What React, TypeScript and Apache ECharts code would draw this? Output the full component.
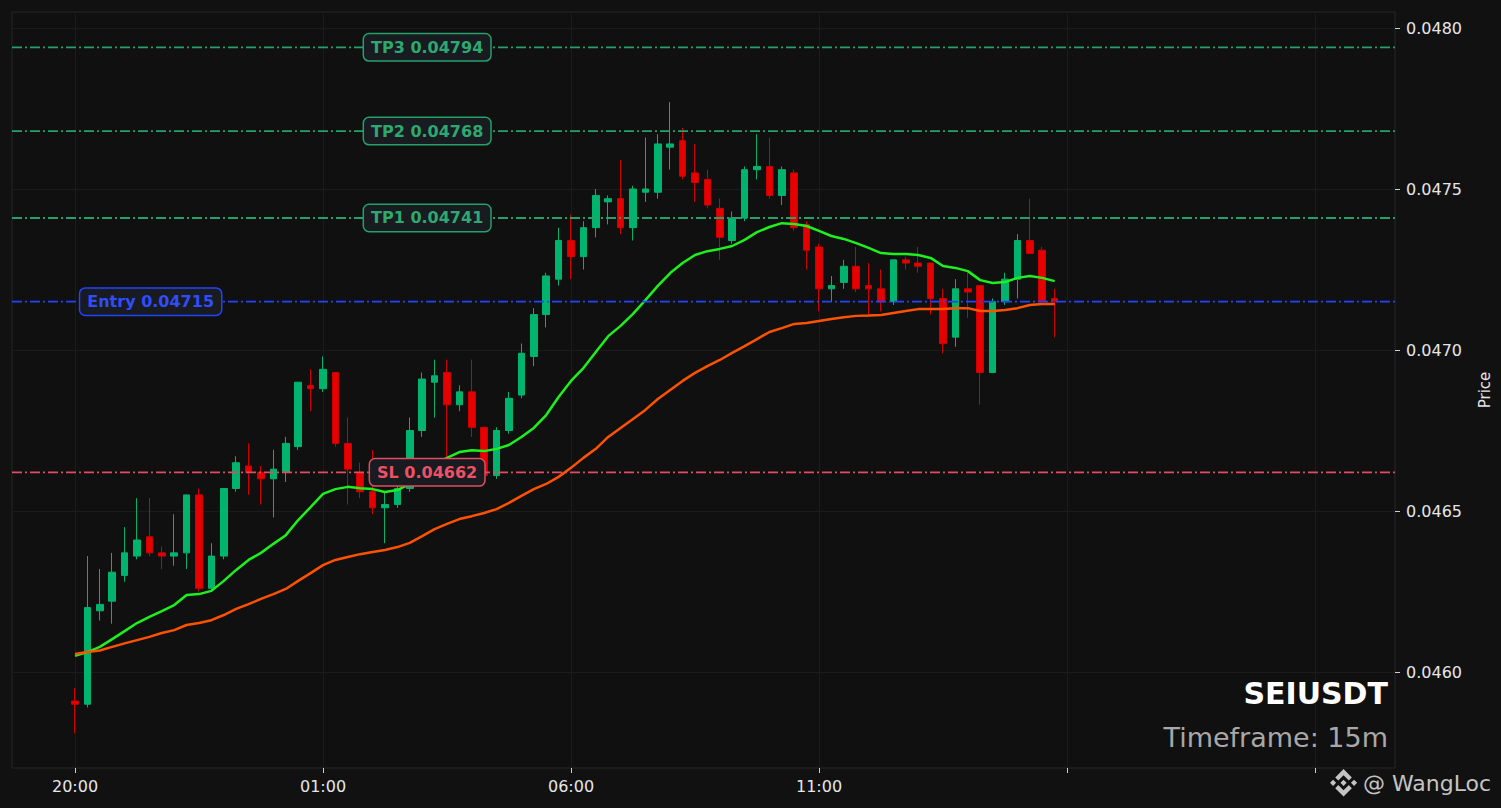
import React, { useEffect, useRef } from "react";
import * as echarts from "echarts";

// ---- data (15m candles, index 0 = 20:00) ----
const OPEN = [
  0.04591, 0.0459, 0.04619, 0.04622, 0.0463, 0.04636, 0.04642, 0.04637, 0.04636, 0.04637,
  0.04655, 0.04626, 0.04636, 0.04657, 0.04664, 0.04662, 0.0466, 0.04662, 0.0467, 0.04689,
  0.04688, 0.04693, 0.04671, 0.04662, 0.04656, 0.04651, 0.04652, 0.04657, 0.04675, 0.0469,
  0.04693, 0.04683, 0.04687, 0.04676, 0.04661, 0.04675, 0.04686, 0.04698, 0.04711, 0.04722,
  0.04734, 0.04729, 0.04738, 0.04746, 0.04747, 0.04738, 0.04749, 0.04749, 0.04763, 0.04765,
  0.04755, 0.04753, 0.04744, 0.04734, 0.04741, 0.04756, 0.04757, 0.04748, 0.04755, 0.04739,
  0.04732, 0.04719, 0.04721, 0.04726, 0.0472, 0.04719, 0.04715, 0.04728, 0.04727, 0.04727,
  0.04716, 0.04704, 0.04719, 0.0472, 0.04693, 0.04715, 0.04722, 0.04734, 0.04731, 0.04716,
];
const CLOSE = [
  0.0459, 0.0462, 0.04621, 0.04631, 0.04637, 0.04641, 0.04637, 0.04636, 0.04637, 0.04655,
  0.04626, 0.04636, 0.04657, 0.04665, 0.04662, 0.0466, 0.04663, 0.04671, 0.0469, 0.04688,
  0.04694, 0.04671, 0.04663, 0.04656, 0.04651, 0.04652, 0.04657, 0.04675, 0.04691, 0.04692,
  0.04683, 0.04687, 0.04676, 0.04661, 0.04675, 0.04685, 0.04699, 0.04711, 0.04723, 0.04734,
  0.04729, 0.04738, 0.04748, 0.04747, 0.04738, 0.0475, 0.0475, 0.04764, 0.04764, 0.04754,
  0.04752, 0.04745, 0.04735, 0.04741, 0.04756, 0.04757, 0.04748, 0.04756, 0.04738, 0.04731,
  0.04719, 0.0472, 0.04726, 0.04719, 0.04719, 0.04715, 0.04728, 0.04727, 0.04726, 0.04716,
  0.04702, 0.04719, 0.04718, 0.04693, 0.04715, 0.04722, 0.04734, 0.0473, 0.04715, 0.04715,
];
const HIGH = [
  0.04595, 0.04636, 0.04632, 0.04637, 0.04645, 0.04654, 0.04654, 0.04639, 0.04649, 0.04655,
  0.04657, 0.0464, 0.04657, 0.04667, 0.04671, 0.04664, 0.04669, 0.04673, 0.0469, 0.04694,
  0.04698, 0.04693, 0.04679, 0.04665, 0.04669, 0.04656, 0.04658, 0.04679, 0.04693, 0.04697,
  0.04697, 0.04689, 0.04697, 0.04676, 0.04676, 0.04687, 0.04702, 0.04713, 0.04724, 0.04738,
  0.04742, 0.0474, 0.0475, 0.04748, 0.04759, 0.04751, 0.04766, 0.04767, 0.04777, 0.04769,
  0.04764, 0.04756, 0.04747, 0.04743, 0.04757, 0.04767, 0.04766, 0.04757, 0.04756, 0.0474,
  0.04733, 0.04723, 0.04728, 0.04732, 0.04727, 0.04725, 0.04728, 0.04729, 0.04732, 0.04727,
  0.04719, 0.04722, 0.04724, 0.0472, 0.04716, 0.04724, 0.04736, 0.04747, 0.04732, 0.04719,
];
const LOW = [
  0.04581, 0.04589, 0.04616, 0.04615, 0.04628, 0.04635, 0.04636, 0.04632, 0.04633, 0.04632,
  0.04625, 0.04625, 0.04635, 0.04656, 0.04655, 0.04652, 0.04648, 0.04659, 0.04669, 0.04681,
  0.04687, 0.0467, 0.04652, 0.04654, 0.04649, 0.0464, 0.04651, 0.04656, 0.04673, 0.04679,
  0.04666, 0.04681, 0.04673, 0.04659, 0.0466, 0.04674, 0.04685, 0.04695, 0.04707, 0.0472,
  0.04722, 0.04725, 0.04735, 0.04739, 0.04736, 0.04734, 0.04746, 0.04747, 0.04756, 0.04753,
  0.04746, 0.04744, 0.04728, 0.04733, 0.0474, 0.04753, 0.04747, 0.04745, 0.04737, 0.04725,
  0.04712, 0.04715, 0.04719, 0.04718, 0.04711, 0.04712, 0.04714, 0.04725, 0.04724, 0.04711,
  0.04699, 0.04701, 0.0471, 0.04683, 0.04693, 0.04714, 0.04716, 0.0473, 0.04715, 0.04704,
];
const EMA_FAST = [
  0.04605, 0.046062, 0.046078, 0.046102, 0.046127, 0.046152, 0.046171, 0.046189, 0.046208, 0.046239,
  0.046242, 0.046252, 0.046283, 0.046317, 0.046348, 0.04637, 0.046398, 0.046425, 0.046472, 0.046512,
  0.046553, 0.046568, 0.046575, 0.046571, 0.046568, 0.046559, 0.046565, 0.046584, 0.046615, 0.046643,
  0.046665, 0.046683, 0.046689, 0.046686, 0.046693, 0.046705, 0.04673, 0.046758, 0.046798, 0.046854,
  0.046904, 0.046944, 0.046994, 0.047043, 0.047075, 0.047112, 0.047155, 0.047199, 0.047239, 0.04727,
  0.047295, 0.047307, 0.047314, 0.047323, 0.047342, 0.047366, 0.047382, 0.047394, 0.047391, 0.047385,
  0.04737, 0.047354, 0.047345, 0.047332, 0.047317, 0.047301, 0.047298, 0.047298, 0.047295, 0.047286,
  0.047261, 0.047255, 0.047245, 0.047217, 0.047208, 0.047211, 0.047224, 0.04723, 0.047224, 0.047214,
];
const EMA_SLOW = [
  0.046056, 0.046062, 0.046067, 0.046078, 0.046089, 0.046099, 0.046109, 0.046121, 0.04613, 0.046146,
  0.046152, 0.046161, 0.046177, 0.046196, 0.046211, 0.046227, 0.046242, 0.046258, 0.046283, 0.046307,
  0.046332, 0.046348, 0.046357, 0.046366, 0.046373, 0.046379, 0.046388, 0.046401, 0.046422, 0.046444,
  0.04646, 0.046475, 0.046484, 0.046494, 0.046506, 0.046525, 0.046547, 0.046568, 0.046584, 0.046606,
  0.046634, 0.046665, 0.046693, 0.04673, 0.046758, 0.046786, 0.046814, 0.046848, 0.046876, 0.046904,
  0.046929, 0.04695, 0.046969, 0.046991, 0.047012, 0.047034, 0.047056, 0.047068, 0.047081, 0.047084,
  0.04709, 0.047096, 0.047102, 0.047106, 0.047107, 0.047109, 0.047115, 0.047121, 0.047127, 0.047127,
  0.047127, 0.04713, 0.04713, 0.047121, 0.047121, 0.047124, 0.04713, 0.04714, 0.047143, 0.047143,
];

const X_TICKS = [0, 20, 40, 60, 80, 100];
const X_TICK_LABELS = ["20:00", "01:00", "06:00", "11:00", "", ""];
const Y_TICKS = [0.046, 0.0465, 0.047, 0.0475, 0.048];
const X_MIN = -5.08;
const X_MAX = 106.45;
const Y_MIN = 0.0457019;
const Y_MAX = 0.0480497;

const LEVEL_NAMES = ["TP3", "TP2", "TP1", "Entry", "SL"];
const LEVEL_PRICES = [0.04794, 0.04768, 0.04741, 0.04715, 0.04662];
const LEVEL_LABEL_AT = [28.4, 28.4, 28.4, 6.1, 28.4];

const SYMBOL = "SEIUSDT";
const TIMEFRAME = "Timeframe: 15m";
const WATERMARK = "@ WangLoc";

const LEVEL_LINE_COLORS = ["#25a06a", "#25a06a", "#25a06a", "#2443ff", "#e04c60"];
const LEVEL_TEXT_COLORS = ["#2fa870", "#2fa870", "#2fa870", "#2f4dff", "#ee5066"];

const LOGO_D =
  "M16.624 13.9202l2.7175 2.7154-7.353 7.353-7.353-7.352 2.7175-2.7164 4.6355 4.6595 4.6356-4.6595zm4.6366-4.6366L24 12l-2.7154 2.7164L18.5682 12l2.6924-2.7164zm-9.272.001l2.7163 2.6914-2.7164 2.7174v-.001L9.2721 12l2.7164-2.7154zm-9.2722-.001L5.4088 12l-2.6914 2.6924L0 12l2.7164-2.7164zM11.9885.0115l7.353 7.329-2.7174 2.7154-4.6356-4.6356-4.6355 4.6595-2.7174-2.7154 7.353-7.353z";

let logoRegistered = false;
function registerLogo() {
  if (logoRegistered) return;
  echarts.graphic.registerShape("logo", echarts.graphic.extendPath(LOGO_D, {}));
  logoRegistered = true;
}

const FONT = '"DejaVu Sans", sans-serif';

export default function App() {
  const ref = useRef<HTMLDivElement>(null);

  useEffect(() => {
    document.body.style.margin = "0";
    document.body.style.background = "#111111";
    registerLogo();
    const chart = echarts.init(ref.current!, null, { renderer: "svg" });

    const candles = OPEN.map((o, i) => [i, o, CLOSE[i], LOW[i], HIGH[i]]);
    const fast = EMA_FAST.map((v, i) => [i, v]);
    const slow = EMA_SLOW.map((v, i) => [i, v]);

    const levelSeries = LEVEL_PRICES.map((p, k) => ({
      type: "line",
      name: LEVEL_NAMES[k],
      data: [
        [X_MIN, p],
        [X_MAX, p],
      ],
      showSymbol: false,
      silent: true,
      z: 4,
      lineStyle: { color: LEVEL_LINE_COLORS[k], type: [10, 3, 2, 3], width: 1.8 },
      itemStyle: { color: LEVEL_LINE_COLORS[k] },
    }));

    const labelSeries = {
      type: "line",
      name: "labels",
      data: [[X_MIN, Y_MIN]],
      showSymbol: false,
      silent: true,
      z: 6,
      lineStyle: { opacity: 0 },
      itemStyle: { opacity: 0 },
      markPoint: {
        silent: true,
        symbol: "circle",
        symbolSize: 1,
        itemStyle: { color: "rgba(0,0,0,0)", opacity: 1 },
        data: LEVEL_PRICES.map((p, k) => ({
          coord: [LEVEL_LABEL_AT[k], p],
          label: {
            show: true,
            position: "inside",
            formatter: `${LEVEL_NAMES[k]} ${p.toFixed(5)}`,
            color: LEVEL_TEXT_COLORS[k],
            fontSize: 16,
            fontWeight: "bold",
            fontFamily: FONT,
            lineHeight: 18,
            backgroundColor: "#181b20",
            borderColor: LEVEL_LINE_COLORS[k],
            borderWidth: 1.5,
            borderRadius: 5,
            padding: [4, 7, 4, 7],
          },
        })),
      },
    };

    const option: any = {
      animation: false,
      backgroundColor: "#111111",
      textStyle: { fontFamily: FONT },
      grid: {
        left: 12,
        right: 106,
        top: 12,
        bottom: 40,
        show: true,
        borderColor: "#25262a",
        borderWidth: 1,
        backgroundColor: "#101010",
      },
      xAxis: {
        type: "value",
        min: X_MIN,
        max: X_MAX,
        axisLine: { show: false, onZero: false },
        axisTick: { show: true, customValues: X_TICKS, length: 5, lineStyle: { color: "#cfcfcf" } },
        axisLabel: {
          customValues: X_TICKS,
          color: "#e6e6e6",
          fontSize: 16,
          fontFamily: FONT,
          margin: 10,
          formatter: (v: number) => {
            const k = X_TICKS.indexOf(Math.round(v));
            return k >= 0 ? X_TICK_LABELS[k] : "";
          },
        },
        splitLine: { show: true, lineStyle: { color: "#1b1b1d", width: 1 } },
      },
      yAxis: {
        type: "value",
        position: "right",
        min: Y_MIN,
        max: Y_MAX,
        scale: true,
        name: "Price",
        nameLocation: "middle",
        nameGap: 82,
        nameRotate: 90,
        nameTextStyle: { color: "#e6e6e6", fontSize: 15, fontFamily: FONT },
        axisLine: { show: false, onZero: false },
        axisTick: { show: true, customValues: Y_TICKS, length: 5, lineStyle: { color: "#cfcfcf" } },
        axisLabel: {
          customValues: Y_TICKS,
          color: "#e6e6e6",
          fontSize: 16,
          fontFamily: FONT,
          margin: 11,
          formatter: (v: number) => v.toFixed(4),
        },
        splitLine: { show: true, lineStyle: { color: "#1b1b1d", width: 1 } },
      },
      series: [
        {
          type: "candlestick",
          name: SYMBOL,
          data: candles,
          barWidth: 7,
          z: 2,
          itemStyle: {
            color: "#00b46e",
            color0: "#e60000",
            borderColor: "#00b46e",
            borderColor0: "#d00000",
            borderWidth: 1,
          },
        },
        {
          type: "line",
          name: "EMA fast",
          data: fast,
          showSymbol: false,
          z: 3,
          lineStyle: { color: "#1ef01e", width: 2.5 },
          itemStyle: { color: "#1ef01e" },
        },
        {
          type: "line",
          name: "EMA slow",
          data: slow,
          showSymbol: false,
          z: 3,
          lineStyle: { color: "#ff5200", width: 2.5 },
          itemStyle: { color: "#ff5200" },
        },
        ...levelSeries,
        labelSeries,
      ],
      graphic: [
        {
          type: "text",
          x: 1388,
          y: 693,
          z: 10,
          style: {
            text: SYMBOL,
            fill: "#ffffff",
            font: `bold 30px ${FONT}`,
            align: "right",
            verticalAlign: "middle",
          },
        },
        {
          type: "text",
          x: 1388,
          y: 737,
          z: 10,
          style: {
            text: TIMEFRAME,
            fill: "#a8a8a8",
            font: `27px ${FONT}`,
            align: "right",
            verticalAlign: "middle",
          },
        },
        {
          type: "logo",
          x: 1330,
          y: 769,
          scaleX: 1.13,
          scaleY: 1.15,
          z: 10,
          style: { fill: "#c4c4c4" },
        },
        {
          type: "text",
          x: 1363,
          y: 783,
          z: 10,
          style: {
            text: WATERMARK,
            fill: "#c4c4c4",
            font: `22px ${FONT}`,
            align: "left",
            verticalAlign: "middle",
          },
        },
      ],
    };

    chart.setOption(option);
    return () => chart.dispose();
  }, []);

  return <div ref={ref} style={{ width: 1501, height: 808 }} />;
}
